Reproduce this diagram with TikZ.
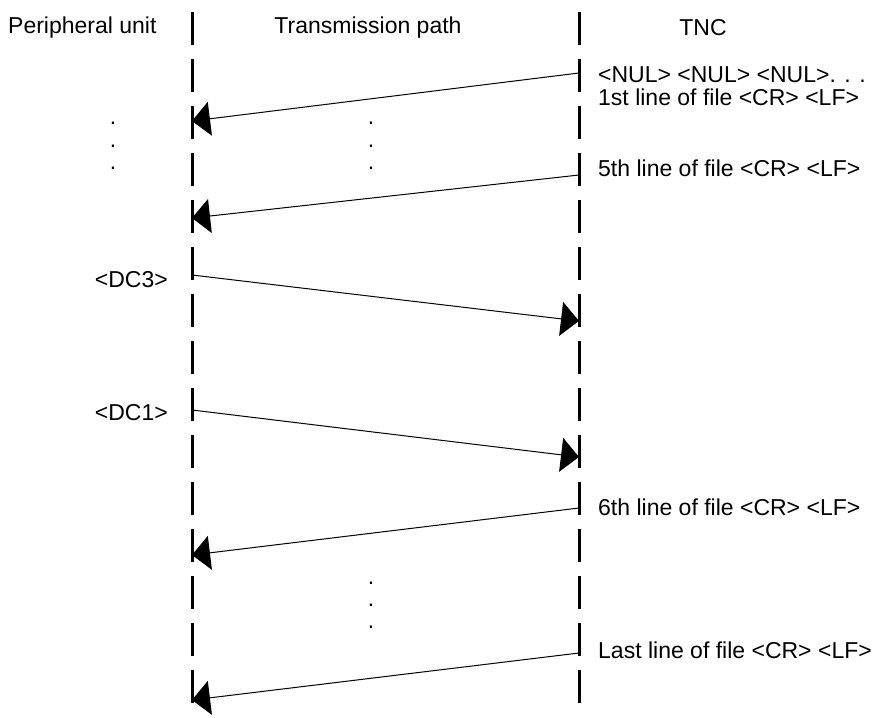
\documentclass[tikz,border=0pt]{standalone}
\usepackage{fontspec}
\setmainfont{Liberation Sans}
\usetikzlibrary{arrows.meta}
\begin{document}
\begin{tikzpicture}[x=1pt,y=-1pt,
  lifeline/.style={line width=3pt,dash pattern=on 33pt off 14pt},
  msg/.style={line width=1pt,-{Triangle[length=18pt,width=34pt]}},
  lbl/.style={font=\fontsize{23}{24}\selectfont,inner sep=0pt},
  dot/.style={font=\fontsize{23}{24}\selectfont,inner sep=0pt,anchor=base}]
\useasboundingbox (0,0) rectangle (890,717);
\fill[white] (0,0) rectangle (890,717);
% lifelines
\coordinate (L0) at (192,12); \coordinate (L1) at (192,717);
\coordinate (R0) at (579,12); \coordinate (R1) at (579,717);
\draw[lifeline] (L0) -- (L1);
\draw[lifeline] (R0) -- (R1);
% headings
\node[lbl,anchor=west] (hp) at (8,28) {Peripheral unit};
\node[lbl] (ht) at (368,28) {Transmission path};
\node[lbl] (hn) at (703,28) {TNC};
% message endpoints
\coordinate (a1) at (579,73);  \coordinate (b1) at (192,121);
\coordinate (a2) at (579,175); \coordinate (b2) at (192,218);
\coordinate (a3) at (192,275); \coordinate (b3) at (579,321);
\coordinate (a4) at (192,410); \coordinate (b4) at (579,457);
\coordinate (a5) at (579,508); \coordinate (b5) at (192,555);
\coordinate (a6) at (579,653); \coordinate (b6) at (192,700);
\draw[msg] (a1) -- (b1);
\draw[msg] (a2) -- (b2);
\draw[msg] (a3) -- (b3);
\draw[msg] (a4) -- (b4);
\draw[msg] (a5) -- (b5);
\draw[msg] (a6) -- (b6);
% texts
\node[lbl,anchor=west] (t1) at (598,75) {<NUL> <NUL> <NUL>. . .};
\node[lbl,anchor=west] (t2) at (598,97) {1st line of file <CR> <LF>};
\node[lbl,anchor=west] (t3) at (598,168) {5th line of file <CR> <LF>};
\node[lbl,anchor=west] (t4) at (598,507) {6th line of file <CR> <LF>};
\node[lbl,anchor=west] (t5) at (598,650) {Last line of file <CR> <LF>};
\node[lbl,anchor=east] (t6) at (168,280) {<DC3>};
\node[lbl,anchor=east] (t7) at (168,413) {<DC1>};
% dots
\foreach \y [count=\i] in {124,147,169}{
  \node[dot] (dl\i) at (113,\y) {.};
  \node[dot] (dm\i) at (371,\y) {.};
}
\foreach \y [count=\i] in {584,606,628}{
  \node[dot] (dn\i) at (371,\y) {.};
}
\end{tikzpicture}
\end{document}
